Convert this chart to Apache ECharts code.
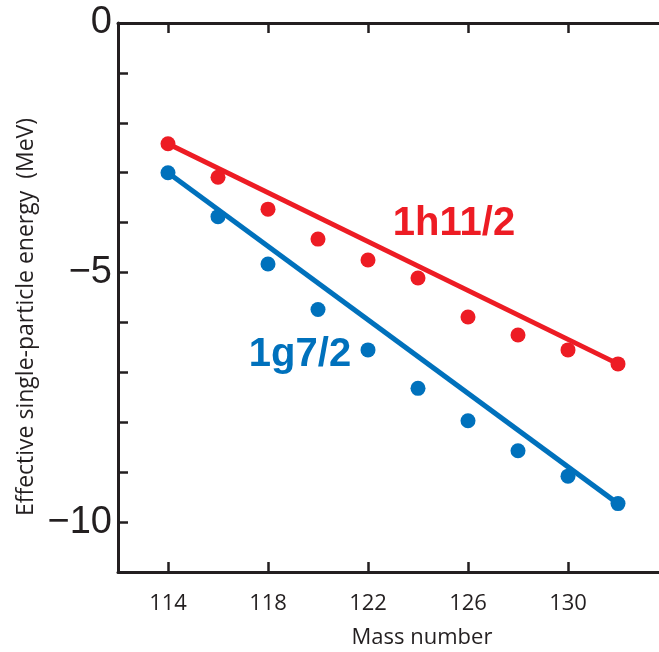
<!DOCTYPE html>
<html>
<head>
<meta charset="utf-8">
<script src="https://cdn.jsdelivr.net/npm/echarts@6/dist/echarts.min.js"></script>
<style>
html,body{margin:0;padding:0;background:#fff;}
#chart{width:659px;height:652px;}
</style>
</head>
<body>
<div id="chart"></div>
<script>
// Data
var massNumbers = [114, 116, 118, 120, 122, 124, 126, 128, 130, 132];
var h11Energy = [-2.42, -3.09, -3.73, -4.33, -4.75, -5.11, -5.89, -6.25, -6.55, -6.83];
var g7Energy  = [-3.00, -3.88, -4.83, -5.74, -6.55, -7.32, -7.97, -8.57, -9.08, -9.63];
var fitMass = [114, 132];
var h11Fit = [-2.42, -6.83];
var g7Fit  = [-3.00, -9.63];
var xTickValues = [114, 118, 122, 126, 130];
var yLabelValues = [0, -5, -10];

var RED = '#ED1C24', BLUE = '#0071BC', INK = '#231F20';

function zip(a, b) { return a.map(function (v, i) { return [v, b[i]]; }); }

var chart = echarts.init(document.getElementById('chart'), null, {renderer: 'canvas'});

var xCommon = {
  type: 'value', min: 112, max: 133.64,
  axisLine: {show: true, onZero: false, lineStyle: {color: INK, width: 3}},
  axisTick: {show: true, inside: true, length: 10, customValues: xTickValues, lineStyle: {color: INK, width: 2.5}},
  splitLine: {show: false}
};

chart.setOption({
  animation: false,
  backgroundColor: '#fff',
  grid: {left: 118, top: 23, bottom: 80, right: 0, containLabel: false},
  xAxis: [
    Object.assign({}, xCommon, {
      position: 'bottom',
      axisLabel: {show: true, customValues: xTickValues, fontFamily: 'Open Sans', fontSize: 22, color: INK, margin: 21}
    }),
    Object.assign({}, xCommon, {
      position: 'top',
      axisLabel: {show: false}
    })
  ],
  yAxis: {
    type: 'value', min: -11, max: 0, interval: 1,
    axisLine: {show: true, onZero: false, lineStyle: {color: INK, width: 3}},
    axisTick: {show: true, inside: true, length: 10, lineStyle: {color: INK, width: 2.5}},
    axisLabel: {
      show: true, margin: 6, fontFamily: 'Liberation Sans', fontSize: 38, color: INK,
      formatter: function (v) {
        if (yLabelValues.indexOf(v) < 0) return '';
        return v === 0 ? '0' : '\u2212' + Math.abs(v);
      }
    },
    splitLine: {show: false}
  },
  graphic: [
    {type: 'text', x: 26, y: 317, rotation: Math.PI / 2,
     style: {text: 'Effective single-particle energy  (MeV)', font: '23px "Open Sans"', fill: INK, align: 'center', verticalAlign: 'middle'}},
    {type: 'text', x: 422, y: 638,
     style: {text: 'Mass number', font: '22px "Open Sans"', fill: INK, align: 'center', verticalAlign: 'middle'}},
    {type: 'text', x: 454, y: 224,
     style: {text: '1h11/2', font: 'bold 40px "Liberation Sans"', fill: RED, align: 'center', verticalAlign: 'middle'}},
    {type: 'text', x: 300, y: 355,
     style: {text: '1g7/2', font: 'bold 40px "Liberation Sans"', fill: BLUE, align: 'center', verticalAlign: 'middle'}}
  ],
  series: [
    {type: 'line', xAxisIndex: 0, data: zip(fitMass, h11Fit), showSymbol: false, lineStyle: {color: RED, width: 5}, z: 2},
    {type: 'line', xAxisIndex: 0, data: zip(fitMass, g7Fit), showSymbol: false, lineStyle: {color: BLUE, width: 5}, z: 2},
    {type: 'scatter', xAxisIndex: 0, data: zip(massNumbers, h11Energy), symbolSize: 15, itemStyle: {color: RED, opacity: 1}, z: 3},
    {type: 'scatter', xAxisIndex: 0, data: zip(massNumbers, g7Energy), symbolSize: 15, itemStyle: {color: BLUE, opacity: 1}, z: 3}
  ]
});
</script>
</body>
</html>
